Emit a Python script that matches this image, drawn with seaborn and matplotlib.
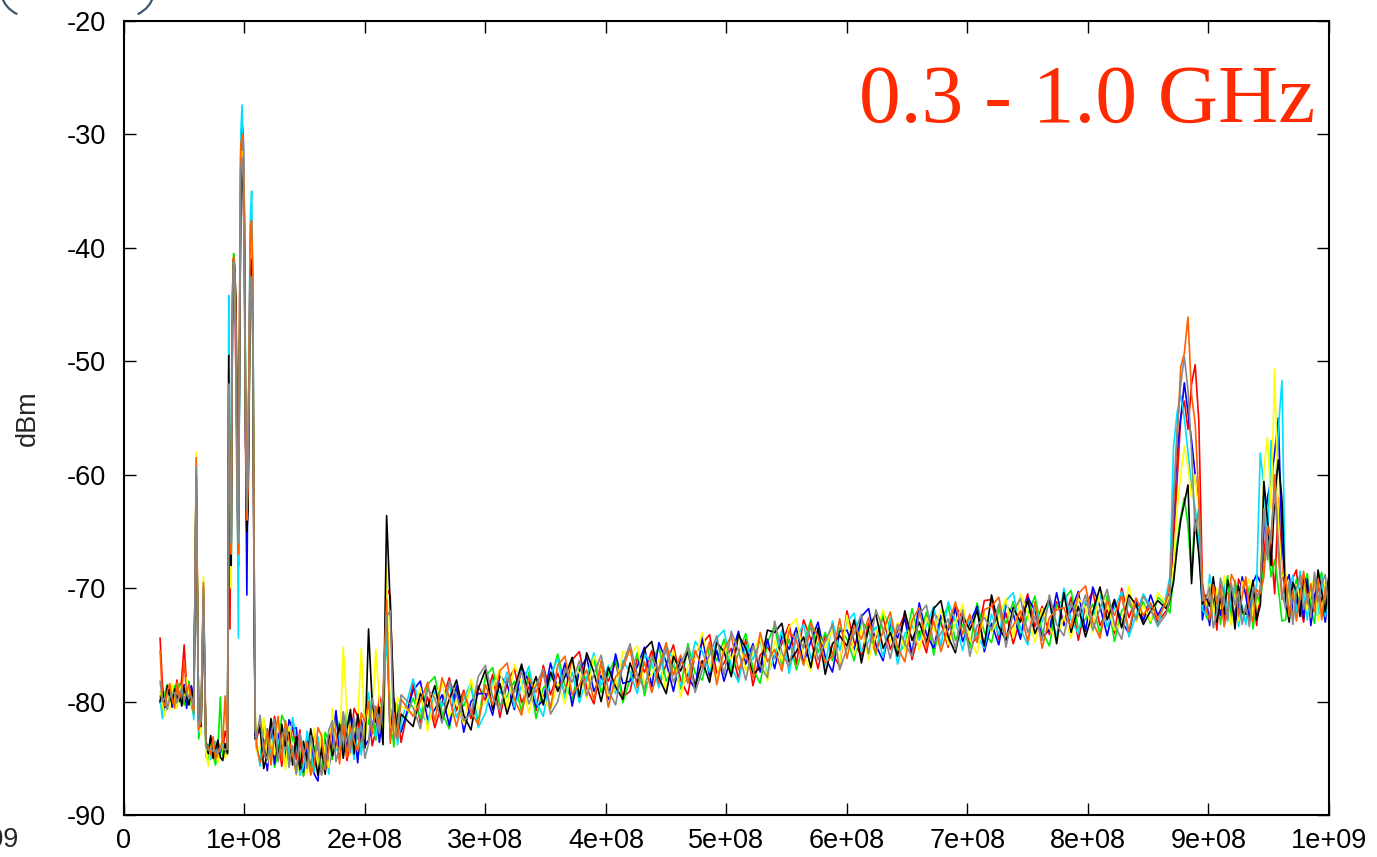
import numpy as np
import pandas as pd
import matplotlib
matplotlib.use("Agg")
import matplotlib.pyplot as plt
import seaborn as sns
from matplotlib.patches import Arc
from matplotlib.transforms import IdentityTransform

# sweep frequencies (MHz) shared by all traces
freq_mhz = [
    30, 32, 34, 36, 38, 40, 42, 44, 46, 48, 50, 52, 54, 56, 58, 60, 62, 64, 66, 68,
    70, 72, 74, 76, 78, 80, 82, 84, 86,
    87, 88, 89, 90, 91, 92, 93, 94, 95, 96, 97, 98, 99, 100, 101, 102, 103, 104,
    105, 106, 107, 108, 109, 110,
    113, 116, 119, 122, 125, 128, 131, 134, 137, 140, 143, 146, 149, 152, 155, 158,
    161, 164, 167, 170, 173, 176, 179, 182, 185, 188, 191, 194, 197, 200, 203, 206,
    209, 212, 215, 218, 221, 224, 227, 230,
    240, 246, 252, 258, 264, 270, 276, 282, 288, 294,
    300, 306, 312, 318, 324, 330, 336, 342, 348, 354,
    360, 366, 372, 378, 384, 390, 396, 402, 408, 414,
    420, 426, 432, 438, 444, 450, 456, 462, 468, 474,
    480, 486, 492, 498, 504, 510, 516, 522, 528, 534,
    540, 546, 552, 558, 564, 570, 576, 582, 588, 594,
    600, 606, 612, 618, 624, 630, 636, 642, 648, 654,
    660, 666, 672, 678, 684, 690, 696, 702, 708, 714,
    720, 726, 732, 738, 744, 750, 756, 762, 768, 774,
    780, 786, 792, 798, 804, 810, 816, 822, 828, 834,
    840, 846, 852, 858,
    865, 868, 871, 874, 877, 880, 883, 886, 889, 892, 895, 898, 901, 904, 907, 910,
    913, 916, 919, 922, 925, 928, 931, 934, 937, 940, 943, 946, 949, 952, 955, 958,
    961, 964, 967, 970, 973, 976, 979, 982, 985, 988, 991, 994, 997, 1000,
]

red_dbm = [
    # 30-86 MHz
    -74.4, -78.6, -80.1, -79.0, -80.3, -78.8, -79.5, -78.1, -79.6, -77.9, -75.0, -78.7, -79.8, -79.2, -80.6,
    -59.0, -82.3, -81.5, -70.0, -83.6, -84.5, -83.2, -84.9, -83.8, -85.0, -83.9, -84.4, -82.6, -83.5,
    # FM band
    -52, -73.6, -58, -44, -41, -43, -52, -63, -68, -45, -31, -29.5, -33, -42, -58, -66, -61, -48, -39, -38,
    -47, -70, -82.5, -83.4,
    # 113-230 MHz
    -82.0, -84.9, -82.4, -84.2, -81.3, -83.5, -85.7, -83.0, -85.3, -81.8,
    -85.1, -82.5, -86.5, -84.4, -85.8, -82.8, -84.0, -86.4, -83.3, -85.6,
    -84.6, -81.5, -83.2, -81.9, -85.2, -83.8, -80.6, -81.3, -84.3, -82.5,
    -80.3, -83.9, -82.6, -79.5, -81.2, -70.0, -70.7, -81.9, -80.7, -83.6,
    # 240-858 MHz
    -78.4, -81.9, -79.6, -82.3, -80.1, -77.9, -80.8, -79.0, -81.5, -78.6,
    -79.9, -77.6, -81.4, -78.3, -77.1, -80.1, -78.7, -80.8, -76.8, -79.4,
    -77.5, -79.3, -76.3, -75.6, -78.8, -80.2, -76.9, -78.2, -76.5, -79.6,
    -79.1, -76.2, -77.4, -75.5, -78.6, -76.7, -75.0, -78.1, -79.4, -75.8,
    -74.9, -74.1, -77.5, -76.6, -75.3, -78.0, -74.5, -78.6, -75.9, -75.2,
    -76.2, -74.9, -73.2, -76.7, -72.8, -74.5, -77.1, -74.1, -75.8, -76.9,
    -72.0, -74.8, -76.0, -73.1, -74.4, -72.5, -75.4, -73.8, -72.3, -76.3,
    -73.8, -75.7, -72.2, -73.0, -75.2, -71.5, -72.7, -75.0, -74.4, -71.1,
    -71.0, -74.5, -72.2, -74.9, -72.7, -70.5, -73.4, -71.6, -74.1, -71.2,
    -73.1, -70.8, -74.6, -71.5, -70.3, -73.3, -71.9, -74.0, -70.0, -72.6,
    -70.9, -72.8, -71.4, -73.0,
    # 865-1000 MHz
    -72.0, -71.3, -66.0, -60.5, -55.0, -53.5, -56.0, -52.0, -50.3, -55.2, -69.5, -71.8,
    -70.3, -71.0, -73.7, -69.6, -73.1, -70.4, -71.7, -72.6, -69.2, -70.0, -69.4, -72.9, -70.6, -73.3,
    -70.0, -67.0, -64.0, -66.5, -70.5, -62.0, -68.5,
    -70.3, -72.1, -69.1, -68.4, -71.6, -73.0, -69.7, -71.0, -69.3, -72.4, -71.9, -70.6, -68.9,
]

green_dbm = [
    -79.5, -80.8, -79.3, -78.5, -80.1, -79.7, -78.6, -80.2, -78.4, -79.5, -80.3, -79.0, -78.2, -80.4, -81.2,
    -60.5, -83.3, -82.0, -70.5, -84.8, -85.3, -83.5, -84.7, -85.6, -84.1, -79.6, -84.8, -84.0, -84.5,
    -53, -64, -66, -47, -40.5, -41.5, -46, -57, -65, -50, -35, -31, -33, -38, -54, -63, -62, -52, -41, -39,
    -45, -67, -81.8, -84.1,
    -85.2, -82.1, -83.8, -82.5, -85.8, -84.4, -81.2, -81.9, -84.9, -83.1,
    -83.8, -84.5, -86.6, -83.1, -86.3, -83.9, -85.2, -86.1, -82.7, -83.5,
    -85.1, -81.1, -82.6, -84.2, -81.3, -83.2, -81.9, -84.8, -83.6, -80.8,
    -82.0, -79.4, -83.4, -81.3, -82.7, -73.5, -80.9, -84.0, -80.2, -82.5,
    -79.7, -81.5, -78.5, -77.8, -81.0, -82.4, -79.1, -80.4, -78.7, -81.8,
    -77.8, -77.0, -80.4, -79.5, -78.2, -80.9, -77.4, -81.5, -78.8, -78.1,
    -75.8, -78.6, -79.8, -76.9, -78.2, -76.3, -79.2, -77.6, -76.1, -80.1,
    -78.0, -75.7, -79.5, -76.4, -75.2, -78.2, -76.8, -78.9, -74.9, -77.5,
    -78.1, -75.2, -76.4, -74.5, -77.6, -75.7, -74.0, -77.1, -78.4, -74.8,
    -73.3, -76.8, -74.5, -77.2, -75.0, -72.8, -75.7, -73.9, -76.4, -73.5,
    -74.5, -76.4, -72.9, -73.7, -75.9, -72.2, -73.4, -75.7, -75.1, -71.8,
    -74.4, -72.1, -75.9, -72.8, -71.6, -74.6, -73.2, -75.3, -71.3, -73.9,
    -74.8, -71.9, -73.1, -71.2, -74.3, -72.4, -70.7, -73.8, -75.1, -71.5,
    -71.0, -70.2, -73.6, -72.7, -71.4, -74.1, -70.6, -74.7, -72.0, -71.3,
    -72.6, -71.2, -73.1, -70.8,
    -71.5, -72.2, -69.0, -66.0, -63.7, -62.0, -64.5, -69.0, -63.0, -66.0, -70.8, -72.5,
    -73.0, -71.9, -70.2, -73.2, -70.6, -68.9, -72.8, -69.3, -71.0, -72.3, -72.1, -69.8, -73.6, -70.5,
    -71.5, -68.0, -66.0, -69.0, -67.5, -70.0, -72.9,
    -72.8, -69.9, -71.1, -69.2, -72.3, -70.4, -68.7, -71.8, -73.1, -69.5, -68.6, -71.4, -72.6,
]

blue_dbm = [
    -80.1, -79.4, -81.0, -79.8, -78.9, -80.5, -79.1, -78.7, -80.0, -79.3, -78.5, -80.6, -79.0, -78.6, -79.9,
    -61.0, -81.8, -82.6, -71.0, -83.9, -84.2, -84.8, -83.3, -84.9, -83.6, -84.5, -83.8, -84.9, -84.0,
    -51, -62, -67, -46, -41.5, -42, -48, -60, -67, -49, -32, -29, -30, -37, -56, -70.6, -58, -49, -40, -38,
    -44, -69, -83, -82.7,
    -82.7, -83.4, -86.1, -82.0, -85.5, -82.8, -84.1, -85.0, -81.6, -82.4,
    -82.3, -85.6, -86.2, -83.9, -82.7, -86.4, -87.0, -83.4, -86.0, -85.0,
    -83.4, -80.8, -84.8, -82.7, -84.1, -81.1, -82.3, -85.4, -81.6, -83.9,
    -83.4, -82.3, -80.6, -83.6, -81.0, -72.8, -83.2, -79.7, -81.4, -82.7,
    -79.0, -78.2, -81.6, -80.7, -79.4, -82.1, -78.6, -82.7, -80.0, -79.3,
    -79.3, -81.2, -77.7, -78.5, -80.7, -77.0, -78.2, -80.5, -79.9, -76.6,
    -78.9, -76.6, -80.4, -77.3, -76.1, -79.1, -77.7, -79.8, -75.8, -78.4,
    -78.2, -76.9, -75.2, -78.7, -74.8, -76.5, -79.1, -76.1, -77.8, -78.9,
    -74.3, -77.8, -75.5, -78.2, -76.0, -73.8, -76.7, -74.9, -77.4, -74.5,
    -77.1, -74.2, -75.4, -73.5, -76.6, -74.7, -73.0, -76.1, -77.4, -73.8,
    -73.7, -75.5, -72.5, -71.8, -75.0, -76.4, -73.1, -74.4, -72.7, -75.8,
    -71.3, -74.1, -75.3, -72.4, -73.7, -71.8, -74.7, -73.1, -71.6, -75.6,
    -73.1, -75.0, -71.5, -72.3, -74.5, -70.8, -72.0, -74.3, -73.7, -70.4,
    -73.3, -72.0, -70.3, -73.8, -69.9, -71.6, -74.2, -71.2, -72.9, -74.0,
    -71.1, -72.9, -70.6, -72.4,
    -71.0, -70.4, -64.0, -58.0, -55.0, -51.9, -54.5, -57.0, -60.0, -62.5, -72.8, -70.6,
    -73.3, -69.3, -70.8, -72.4, -69.5, -71.4, -70.1, -73.0, -71.8, -69.0, -70.7, -72.5, -69.5, -68.8,
    -69.5, -65.0, -62.0, -60.5, -58.0, -55.0, -66.0,
    -69.6, -68.8, -72.2, -71.3, -70.0, -72.7, -69.2, -73.3, -70.6, -69.9, -71.1, -73.0, -69.5,
]

cyan_dbm = [
    -79.8, -81.5, -79.7, -80.4, -79.2, -78.9, -80.3, -79.5, -78.8, -80.1, -79.4, -78.3, -80.0, -79.6, -81.6,
    -59.5, -82.7, -81.2, -70.2, -84.2, -83.8, -85.1, -84.0, -83.5, -85.2, -84.3, -83.6, -84.7, -83.9,
    -44.2, -58, -69, -48, -42, -42.5, -49, -62, -74.4, -47, -30, -27.4, -31, -39, -53, -64, -60, -46, -37, -35,
    -43, -66, -82.2, -83.5,
    -85.7, -81.7, -83.2, -84.8, -81.9, -83.8, -82.5, -85.4, -84.2, -81.4,
    -83.4, -86.5, -85.7, -82.6, -84.3, -86.2, -83.1, -85.0, -83.8, -86.4,
    -81.4, -84.3, -81.8, -83.6, -80.7, -82.9, -85.1, -82.4, -84.7, -81.2,
    -79.2, -82.5, -83.1, -80.8, -79.6, -74.0, -81.1, -80.3, -83.8, -81.9,
    -78.0, -80.8, -82.0, -79.1, -80.4, -78.5, -81.4, -79.8, -78.3, -82.3,
    -81.0, -78.1, -79.3, -77.4, -80.5, -78.6, -76.9, -80.0, -81.3, -77.7,
    -76.2, -79.7, -77.4, -80.1, -77.9, -75.7, -78.6, -76.8, -79.3, -76.4,
    -77.4, -79.3, -75.8, -76.6, -78.8, -75.1, -76.3, -78.6, -78.0, -74.7,
    -75.6, -77.4, -74.4, -73.7, -76.9, -78.3, -75.0, -76.3, -74.6, -77.7,
    -76.0, -73.7, -77.5, -74.4, -73.2, -76.2, -74.8, -76.9, -72.9, -75.5,
    -73.0, -72.2, -75.6, -74.7, -73.4, -76.1, -72.6, -76.7, -74.0, -73.3,
    -74.6, -73.3, -71.6, -75.1, -71.2, -72.9, -75.5, -72.5, -74.2, -75.3,
    -72.3, -74.1, -71.1, -70.4, -73.6, -75.0, -71.7, -73.0, -71.3, -74.4,
    -70.0, -72.8, -74.0, -71.1, -72.4, -70.5, -73.4, -71.8, -70.3, -74.3,
    -72.3, -70.5, -71.7, -73.4,
    -70.6, -69.0, -57.6, -54.5, -53.0, -55.0, -58.0, -61.0, -63.0, -66.0, -71.9, -72.4,
    -68.8, -72.1, -72.7, -70.4, -69.2, -72.9, -70.7, -69.9, -73.4, -71.5, -73.2, -70.3, -71.5, -69.6,
    -58.1, -61.0, -66.0, -57.0, -63.0, -56.0, -51.7,
    -71.9, -70.6, -68.9, -72.4, -68.5, -70.2, -72.8, -69.8, -71.5, -72.6, -69.0, -72.5, -70.2,
]

yellow_dbm = [
    -79.1, -80.3, -81.3, -79.3, -80.7, -78.4, -79.9, -80.6, -79.0, -78.6, -79.8, -77.9, -79.5, -80.1, -80.7,
    -58.0, -82.0, -82.9, -69.0, -84.5, -85.7, -84.0, -83.7, -84.6, -85.4, -83.7, -84.1, -85.0, -84.3,
    -50, -61, -70, -45, -41, -43, -47, -58, -66, -48, -34, -31.5, -32, -41, -55, -62, -59, -51, -41, -39.5,
    -46, -68, -81.5, -84.4,
    -84.0, -81.4, -85.4, -83.3, -84.7, -81.7, -82.9, -86.0, -82.2, -84.5,
    -86.5, -85.4, -83.7, -86.4, -84.1, -82.4, -86.3, -82.8, -84.5, -85.8,
    -80.6, -83.9, -84.5, -75.2, -81.0, -84.7, -82.5, -81.7, -75.3, -83.3,
    -80.7, -81.4, -75.4, -80.0, -83.5, -68.0, -82.1, -83.0, -79.6, -80.4,
    -81.1, -78.8, -82.6, -79.5, -78.3, -81.3, -79.9, -82.0, -78.0, -80.6,
    -80.1, -78.8, -77.1, -80.6, -76.7, -78.4, -81.0, -78.0, -79.7, -80.8,
    -78.3, -80.2, -76.7, -77.5, -79.7, -76.0, -77.2, -79.5, -78.9, -75.6,
    -75.9, -75.1, -78.5, -77.6, -76.3, -79.0, -75.5, -79.6, -76.9, -76.2,
    -73.9, -76.7, -77.9, -75.0, -76.3, -74.4, -77.3, -75.7, -74.2, -78.2,
    -74.6, -76.4, -73.4, -72.7, -75.9, -77.3, -74.0, -75.3, -73.6, -76.7,
    -72.4, -75.9, -73.6, -76.3, -74.1, -71.9, -74.8, -73.0, -75.5, -72.6,
    -75.5, -72.6, -73.8, -71.9, -75.0, -73.1, -71.4, -74.5, -75.8, -72.2,
    -73.9, -72.6, -70.9, -74.4, -70.5, -72.2, -74.8, -71.8, -73.5, -74.6,
    -72.5, -74.4, -70.9, -71.7, -73.9, -70.2, -71.4, -73.7, -73.1, -69.8,
    -73.0, -71.5, -72.9, -70.4,
    -71.4, -70.6, -68.0, -63.0, -60.0, -57.5, -59.3, -62.0, -60.0, -63.5, -70.3, -71.5,
    -69.6, -72.5, -70.0, -71.8, -68.9, -71.1, -73.3, -70.6, -72.9, -69.4, -70.0, -69.2, -72.6, -71.7,
    -71.0, -59.5, -56.7, -63.0, -50.7, -64.0, -69.0,
    -68.6, -71.4, -72.6, -69.7, -71.0, -69.1, -72.0, -70.4, -68.9, -72.9, -71.7, -69.4, -73.2,
]

black_dbm = [
    -80.0, -79.1, -80.5, -78.6, -79.5, -80.2, -78.9, -79.8, -79.2, -80.4, -78.8, -79.6, -80.3, -78.9, -80.2,
    -60.0, -81.7, -82.2, -70.8, -83.4, -84.6, -83.0, -85.0, -84.2, -83.4, -84.9, -85.2, -83.7, -84.6,
    -49.5, -63, -68, -47, -41, -42, -45, -56, -65, -49, -36, -33, -35, -40, -57, -65, -63, -53, -42, -41,
    -48, -71, -83.3, -82.9,
    -82.3, -85.9, -84.6, -81.5, -83.2, -85.1, -82.0, -83.9, -82.7, -85.6,
    -83.1, -86.0, -83.5, -85.3, -82.4, -84.6, -86.5, -84.1, -86.4, -82.9,
    -84.8, -83.7, -82.0, -85.0, -82.4, -80.7, -84.6, -81.1, -82.8, -84.1,
    -73.6, -80.1, -81.8, -80.5, -83.8, -63.6, -71.5, -79.9, -82.9, -81.1,
    -82.2, -79.3, -80.5, -78.6, -81.7, -79.8, -78.1, -81.2, -82.5, -78.9,
    -77.2, -80.7, -78.4, -81.1, -78.9, -76.7, -79.6, -77.8, -80.3, -77.4,
    -79.1, -77.8, -76.1, -79.6, -75.7, -77.4, -80.0, -77.0, -78.7, -79.8,
    -76.6, -78.4, -75.4, -74.7, -77.9, -79.3, -76.0, -77.3, -75.6, -78.7,
    -76.4, -78.3, -74.8, -75.6, -77.8, -74.1, -75.3, -77.6, -77.0, -73.7,
    -73.9, -73.1, -76.5, -75.6, -74.3, -77.0, -73.5, -77.6, -74.9, -74.2,
    -75.1, -72.8, -76.6, -73.5, -72.3, -75.3, -73.9, -76.0, -72.0, -74.6,
    -73.0, -74.8, -71.8, -71.1, -74.3, -75.7, -72.4, -73.7, -72.0, -75.1,
    -70.6, -73.4, -74.6, -71.7, -73.0, -71.1, -74.0, -72.4, -70.9, -74.9,
    -70.4, -73.9, -71.6, -74.3, -72.1, -69.9, -72.8, -71.0, -73.5, -70.6,
    -71.5, -73.2, -72.0, -71.1,
    -71.8, -71.0, -69.5, -66.5, -64.0, -62.5, -60.9, -69.6, -64.0, -67.0, -71.4, -70.8,
    -71.6, -69.0, -73.0, -70.9, -72.3, -69.3, -70.5, -73.6, -69.8, -72.1, -72.3, -71.0, -69.3, -72.8,
    -71.5, -60.6, -64.0, -68.0, -62.0, -58.7, -62.2,
    -71.1, -73.0, -69.5, -70.3, -72.5, -68.8, -70.0, -72.3, -71.7, -68.4, -70.3, -72.1, -69.1,
]

orange_dbm = [
    -75.5, -79.9, -80.4, -79.1, -78.4, -79.8, -80.6, -78.3, -79.7, -79.1, -76.5, -79.3, -78.5, -79.7, -81.0,
    -58.5, -82.5, -81.8, -69.5, -83.8, -84.0, -84.7, -83.1, -85.1, -84.4, -84.0, -83.5, -79.5, -84.2,
    -55, -60, -67, -46, -40.8, -41.7, -47, -59, -67, -46, -31, -30, -30.5, -39, -54, -64, -61, -47, -38, -37.6,
    -44, -67, -82, -83.9,
    -85.4, -84.3, -82.6, -85.6, -83.0, -81.3, -85.2, -81.7, -83.4, -84.7,
    -86.3, -83.2, -84.9, -83.6, -86.5, -85.5, -82.3, -83.0, -86.0, -84.2,
    -82.1, -82.8, -85.5, -81.4, -84.9, -82.2, -83.5, -84.4, -81.0, -81.8,
    -80.0, -82.9, -80.4, -82.2, -79.3, -71.0, -83.7, -81.0, -83.3, -79.8,
    -81.3, -80.0, -78.3, -81.8, -77.9, -79.6, -82.2, -79.2, -80.9, -82.0,
    -78.5, -80.3, -77.3, -76.6, -79.8, -81.2, -77.9, -79.2, -77.5, -80.6,
    -76.8, -76.0, -79.4, -78.5, -77.2, -79.9, -76.4, -80.5, -77.8, -77.1,
    -75.3, -78.8, -76.5, -79.2, -77.0, -74.8, -77.7, -75.9, -78.4, -75.5,
    -77.0, -74.7, -78.5, -75.4, -74.2, -77.2, -75.8, -77.9, -73.9, -76.5,
    -75.4, -77.3, -73.8, -74.6, -76.8, -73.1, -74.3, -76.6, -76.0, -72.7,
    -76.2, -73.3, -74.5, -72.6, -75.7, -73.8, -72.1, -75.2, -76.5, -72.9,
    -71.7, -75.2, -72.9, -75.6, -73.4, -71.2, -74.1, -72.3, -74.8, -71.9,
    -71.6, -70.8, -74.2, -73.3, -72.0, -74.7, -71.2, -75.3, -72.6, -71.9,
    -71.7, -73.5, -70.5, -69.8, -73.0, -74.4, -71.1, -72.4, -70.7, -73.8,
    -70.9, -72.4, -71.3, -72.7,
    -71.2, -69.5, -63.0, -57.0, -50.5, -49.3, -46.1, -53.0, -55.5, -62.0, -70.0, -71.9,
    -72.8, -69.7, -71.4, -70.1, -73.4, -72.0, -68.8, -69.5, -72.5, -70.7, -69.0, -71.8, -73.0, -70.1,
    -70.5, -69.0, -64.5, -66.0, -60.0, -67.0, -71.0,
    -69.0, -72.5, -70.2, -72.9, -70.7, -68.5, -71.4, -69.6, -72.1, -69.2, -72.8, -69.9, -71.1,
]

gray_dbm = [
    -78.2, -80.0, -79.6, -80.7, -79.6, -79.3, -79.2, -80.1, -79.4, -78.8, -79.9, -79.2, -79.7, -79.5, -80.5,
    -59.3, -82.1, -81.4, -69.8, -84.0, -84.3, -84.1, -84.4, -84.3, -84.6, -84.2, -84.0, -84.3, -84.1,
    -52, -62, -66, -45, -41.2, -42.3, -48, -61, -66, -50, -33, -32, -34, -43, -57, -63, -60, -52, -43, -42.5,
    -49, -70, -82.6, -83.2,
    -81.2, -84.5, -85.1, -82.8, -81.6, -85.3, -83.1, -82.3, -85.8, -83.9,
    -86.4, -82.8, -84.3, -85.9, -83.0, -84.9, -83.6, -86.5, -85.3, -82.5,
    -81.7, -85.3, -84.0, -80.9, -82.6, -84.5, -81.4, -83.3, -82.1, -85.0,
    -83.7, -79.7, -81.2, -82.8, -79.9, -72.5, -72.0, -83.4, -82.2, -79.4,
    -80.5, -82.4, -78.9, -79.7, -81.9, -78.2, -79.4, -81.7, -81.1, -77.8,
    -76.8, -79.6, -80.8, -77.9, -79.2, -77.3, -80.2, -78.6, -77.1, -81.1,
    -80.0, -77.1, -78.3, -76.4, -79.5, -77.6, -75.9, -79.0, -80.3, -76.7,
    -74.9, -77.7, -78.9, -76.0, -77.3, -75.4, -78.3, -76.7, -75.2, -79.2,
    -77.2, -75.9, -74.2, -77.7, -73.8, -75.5, -78.1, -75.1, -76.8, -77.9,
    -72.9, -75.7, -76.9, -74.0, -75.3, -73.4, -76.3, -74.7, -73.2, -77.2,
    -75.3, -74.0, -72.3, -75.8, -71.9, -73.6, -76.2, -73.2, -74.9, -76.0,
    -72.3, -71.5, -74.9, -74.0, -72.7, -75.4, -71.9, -76.0, -73.3, -72.6,
    -73.7, -71.4, -75.2, -72.1, -70.9, -73.9, -72.5, -74.6, -70.6, -73.2,
    -74.2, -71.3, -72.5, -70.6, -73.7, -71.8, -70.1, -73.2, -74.5, -70.9,
    -72.8, -70.7, -71.9, -73.3,
    -72.3, -70.8, -62.0, -56.0, -52.0, -49.6, -52.5, -58.0, -65.0, -63.0, -71.1, -70.9,
    -69.9, -73.5, -72.2, -69.1, -70.8, -72.7, -69.6, -71.5, -70.3, -73.2, -71.5, -73.4, -69.9, -70.7,
    -70.2, -63.0, -67.5, -65.0, -61.5, -66.0, -70.5,
    -71.7, -69.4, -73.2, -70.1, -68.9, -71.9, -70.5, -72.6, -68.6, -71.2, -69.6, -68.8, -72.2,
]

trace_names = ["red", "green", "blue", "cyan", "yellow", "black", "orange", "gray"]
trace_colors = ["#ff0000", "#00ee00", "#0000ff", "#00e0ff", "#ffff00", "#000000", "#ff6000", "#888888"]
trace_values = [red_dbm, green_dbm, blue_dbm, cyan_dbm, yellow_dbm, black_dbm, orange_dbm, gray_dbm]

x_ticks = [0, 1e8, 2e8, 3e8, 4e8, 5e8, 6e8, 7e8, 8e8, 9e8, 1e9]
x_labels = ["0", "1e+08", "2e+08", "3e+08", "4e+08", "5e+08", "6e+08", "7e+08", "8e+08", "9e+08", "1e+09"]
y_ticks = [-90, -80, -70, -60, -50, -40, -30, -20]
y_labels = ["-90", "-80", "-70", "-60", "-50", "-40", "-30", "-20"]

frames = []
for name, vals in zip(trace_names, trace_values):
    frames.append(pd.DataFrame({"freq": np.array(freq_mhz) * 1e6, "dBm": vals, "trace": name}))
df = pd.concat(frames, ignore_index=True)

sns.set_style("ticks")
plt.rcParams["font.family"] = ["Liberation Sans", "DejaVu Sans"]
plt.rcParams["axes.unicode_minus"] = False

fig = plt.figure(figsize=(13.77, 8.57), dpi=100)
ax = fig.add_axes([0.0900, 0.0490, 0.8751, 0.9265])

sns.lineplot(data=df, x="freq", y="dBm", hue="trace", palette=dict(zip(trace_names, trace_colors)),
             estimator=None, sort=False, linewidth=1.2, legend=False, ax=ax)

ax.set_xlim(0, 1e9)
ax.set_ylim(-90, -20)
ax.set_xticks(x_ticks)
ax.set_xticklabels(x_labels)
ax.set_yticks(y_ticks)
ax.set_yticklabels(y_labels)
ax.set_xlabel("")
ax.set_ylabel("dBm", fontsize=19.5)
ax.yaxis.set_label_coords(-0.069, 0.5)
ax.tick_params(direction="in", length=8.6, width=1.0, top=True, right=True,
               labelsize=19.5, color="black", labelcolor="black")
ax.tick_params(axis="x", pad=9.0)
ax.tick_params(axis="y", pad=13)
for s in ax.spines.values():
    s.set_linewidth(1.5)
    s.set_color("black")

ax.text(0.9884, 0.8728, "0.3 - 1.0 GHz", transform=ax.transAxes, ha="right", va="baseline",
        fontsize=60, color="#ff2a00", family="Liberation Serif")

# leftovers of the neighbouring slide content
fig.text(0.0142, 0.0345, "1e+09", ha="right", va="top", fontsize=19.5)
for cx, t1, t2 in [(30, 195, 245), (125, 295, 345)]:
    fig.add_artist(Arc((cx, 870), 60, 60, theta1=t1, theta2=t2, color="#3d5670",
                       linewidth=1.6, transform=IdentityTransform()))

fig.savefig("out.png", dpi=100)
